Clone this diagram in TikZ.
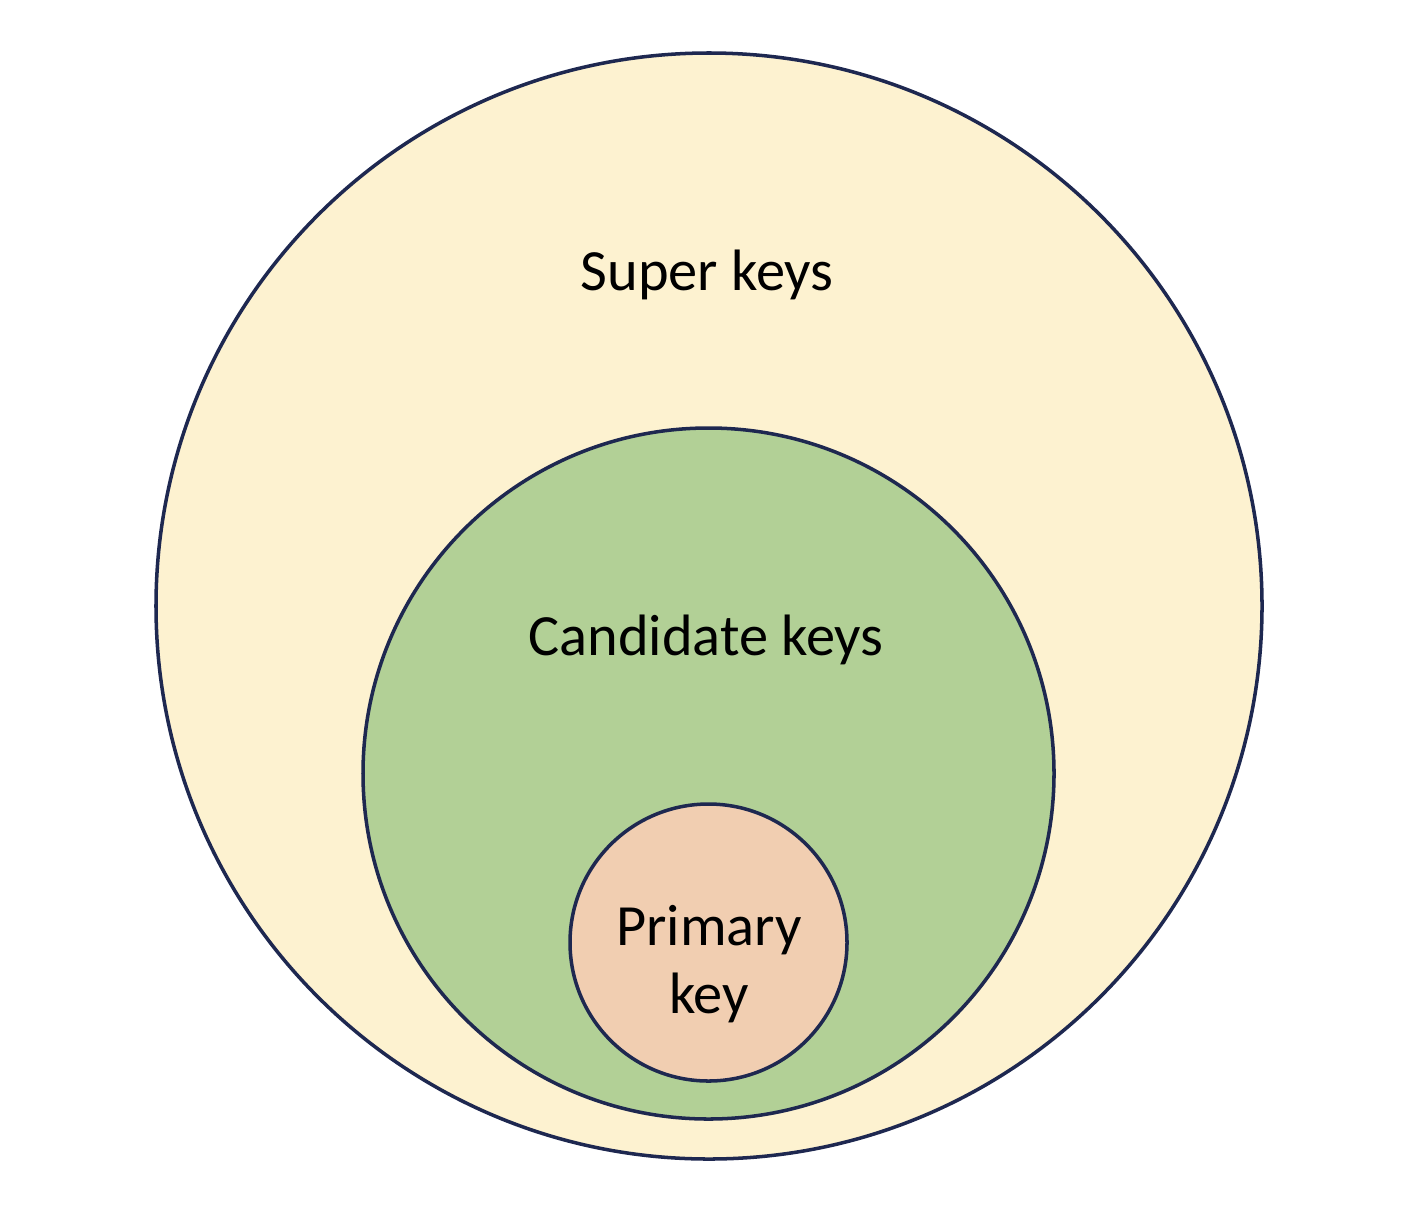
\documentclass[tikz,border=0pt]{standalone}
\usepackage{fontspec}
\setmainfont{Carlito}
\usepackage{xcolor}
\usepackage{tikz}
\usetikzlibrary{positioning}
\definecolor{superfill}{RGB}{253,242,208}
\definecolor{candfill}{RGB}{178,208,150}
\definecolor{primfill}{RGB}{241,206,177}
\definecolor{ringnavy}{RGB}{30,40,80}

\begin{document}
\begin{tikzpicture}[x=0.01cm,y=-0.01cm,
  ring/.style={draw=ringnavy,line width=1pt},
  label/.style={font=\fontsize{16.6}{19.5}\selectfont,text=black,align=center}
]
\useasboundingbox (0,0) rectangle (1416,1218);

% Super keys
\filldraw[ring,fill=superfill] (709,606) circle (553);
\node[label] (super) at (707,275) {Super keys};

% Candidate keys
\filldraw[ring,fill=candfill] (708.5,773.5) circle (345.5);
\node[label] (cand) at (706,640) {Candidate keys};

% Primary key
\filldraw[ring,fill=primfill] (708.5,942.5) circle (138.5);
\node[label] (prim) at (709,964) {Primary\\key};

\end{tikzpicture}
\end{document}
